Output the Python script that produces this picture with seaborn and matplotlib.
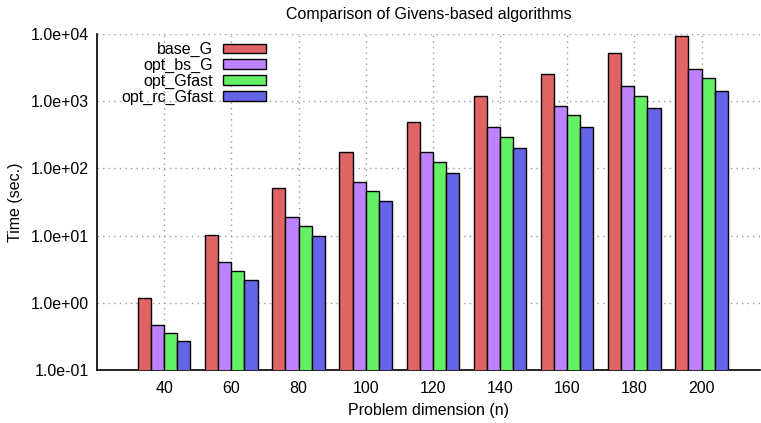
import numpy as np
import pandas as pd
import matplotlib
matplotlib.use("Agg")
import matplotlib.pyplot as plt
import matplotlib.ticker as mticker
import seaborn as sns

# ---- data ----
dimensions = [40, 60, 80, 100, 120, 140, 160, 180, 200]
base_G = [1.16, 10.1, 50.7, 177, 488, 1200, 2520, 5130, 9200]
opt_bs_G = [0.475, 4.07, 19.1, 63.8, 175, 411, 863, 1670, 3030]
opt_Gfast = [0.35, 2.95, 13.7, 45.8, 125, 292, 617, 1200, 2180]
opt_rc_Gfast = [0.27, 2.22, 10.0, 33.0, 86, 200, 411, 795, 1430]
series_names = ["base_G", "opt_bs_G", "opt_Gfast", "opt_rc_Gfast"]
series_values = [base_G, opt_bs_G, opt_Gfast, opt_rc_Gfast]
colors = ["#E16464", "#BE82FF", "#64F064", "#6464E6"]

rows = []
for name, vals in zip(series_names, series_values):
    for d, v in zip(dimensions, vals):
        rows.append({"n": str(d), "time": v, "algo": name})
df = pd.DataFrame(rows)

sns.set_style("white")
plt.rcParams["font.family"] = ["Liberation Sans", "DejaVu Sans"]
plt.rcParams["font.size"] = 11.5
plt.rcParams["text.color"] = "black"
plt.rcParams["axes.labelcolor"] = "black"
plt.rcParams["xtick.color"] = "black"
plt.rcParams["ytick.color"] = "black"

FS = 11.5
W, H = 761, 423
fig = plt.figure(figsize=(W / 100, H / 100), dpi=100)
ax = fig.add_axes([97 / W, (H - 370) / H, (760 - 97) / W, (370 - 34) / H])

sns.barplot(data=df, x="n", y="time", hue="algo", hue_order=series_names,
            palette=colors, width=0.78, edgecolor="black", linewidth=1.0,
            saturation=1, ax=ax, zorder=3, errorbar=None)
ax.set_yscale("log")
ax.set_ylim(0.1, 1e4)
ax.set_xlim(-1, 8.87)

ax.yaxis.set_major_locator(mticker.LogLocator(base=10, numticks=20))
ax.yaxis.set_minor_locator(mticker.LogLocator(base=10, subs=np.arange(2, 10), numticks=20))
ax.yaxis.set_major_formatter(mticker.FuncFormatter(lambda v, p: "%.1e" % v))
ax.yaxis.set_minor_formatter(mticker.NullFormatter())
ax.tick_params(axis="y", which="major", direction="in", length=5, width=1, labelsize=FS, pad=6)
ax.tick_params(axis="y", which="minor", direction="in", length=3, width=0.8)
ax.tick_params(axis="x", which="both", length=0, labelsize=FS, pad=8)

ax.grid(True, which="major", axis="both", color="#9a9a9a", linestyle=(0, (1, 3)), linewidth=1.0, zorder=0)
ax.set_axisbelow(True)

for s in ["top", "right"]:
    ax.spines[s].set_visible(False)
for s in ["left", "bottom"]:
    ax.spines[s].set_color("black")
    ax.spines[s].set_linewidth(1.2)

ax.set_xlabel("Problem dimension (n)", fontsize=FS, labelpad=5)
ax.set_ylabel("Time (sec.)", fontsize=FS, labelpad=5)
ax.set_title("Comparison of Givens-based algorithms", fontsize=FS, pad=11)

handles, labels = ax.get_legend_handles_labels()
leg = ax.legend(handles, labels, loc="upper right",
                bbox_to_anchor=(266 / W, (H - 42) / H), bbox_transform=fig.transFigure,
                frameon=False, markerfirst=False, fontsize=FS, handlelength=2.7,
                handleheight=0.55, handletextpad=0.6, labelspacing=0.05, borderpad=0,
                borderaxespad=0)

fig.savefig("out.png", dpi=100)
